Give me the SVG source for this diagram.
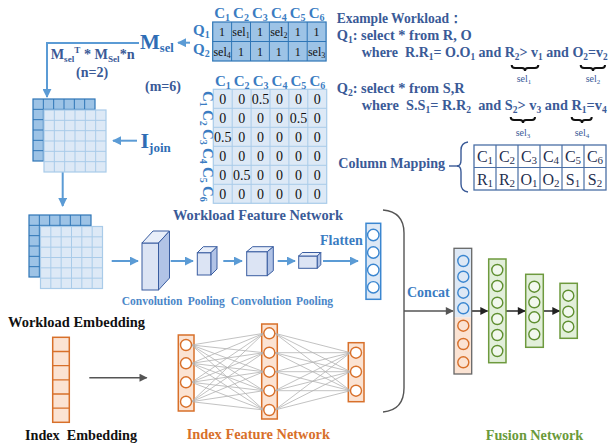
<svg xmlns="http://www.w3.org/2000/svg" width="613" height="444" viewBox="0 0 613 444" font-family="'Liberation Serif', 'Times New Roman', serif">
<defs>
<style>
text{font-family:"Liberation Serif","Times New Roman",serif;font-weight:bold}
.nb{fill:#3a5a97}
.bl{fill:#3a7cc2}
.cv{fill:#4a86c8;font-size:11.5px}
.nw{font-weight:normal}
.ar{stroke:#5b9bd5;stroke-width:2;fill:none}
.gar{stroke:#555;stroke-width:1.4;fill:none}
.kar{stroke:#333;stroke-width:1.6;fill:none}
.f1{fill:#dce4f4;stroke:#3a5da0;stroke-width:1}
.f2{fill:#e8eef9;stroke:#3a5da0;stroke-width:1}
.f3{fill:#b1c3e6;stroke:#3a5da0;stroke-width:1}
.ocirc{fill:#fff;stroke:#d8702a;stroke-width:1.4}
.orect{fill:#fbe3d3;stroke:#d8702a;stroke-width:1.5}
.bcirc{fill:#fff;stroke:#3a86d0;stroke-width:1.4}
.gcirc{fill:#f2f8ee;stroke:#5f8f30;stroke-width:1.4}
.grect{fill:#e2efda;stroke:#6e9a3e;stroke-width:1.5}
.nn{stroke:#b3b3b3;stroke-width:0.8}
.brace{stroke:#111;stroke-width:2;fill:none}
</style>
<marker id="abl" viewBox="0 0 10 10" refX="9" refY="5" markerWidth="9" markerHeight="9" orient="auto" markerUnits="userSpaceOnUse"><path d="M0,0L10,5L0,10z" fill="#5b9bd5"/></marker>
<marker id="ag" viewBox="0 0 10 10" refX="9" refY="5" markerWidth="9" markerHeight="8" orient="auto" markerUnits="userSpaceOnUse"><path d="M0,0L10,5L0,10z" fill="#555"/></marker>
<marker id="ak" viewBox="0 0 10 10" refX="9" refY="5" markerWidth="10" markerHeight="8" orient="auto" markerUnits="userSpaceOnUse"><path d="M0,0L10,5L0,10z" fill="#222"/></marker>
<g id="gridDark">
<rect x="0" y="0" width="62" height="62" fill="#9dc3e6" stroke="#2e75b6" stroke-width="1.2"/>
<path d="M10.33,0V62M20.67,0V62M31,0V62M41.33,0V62M51.67,0V62M0,10.33H62M0,20.67H62M0,31H62M0,41.33H62M0,51.67H62" stroke="#2e75b6" stroke-width="1"/>
</g>
<g id="gridLight">
<rect x="0" y="0" width="62" height="62" fill="#dde9f6" stroke="#a9cbe9" stroke-width="1.2"/>
<path d="M10.33,0V62M20.67,0V62M31,0V62M41.33,0V62M51.67,0V62M0,10.33H62M0,20.67H62M0,31H62M0,41.33H62M0,51.67H62" stroke="#a9cbe9" stroke-width="1"/>
</g>
</defs>
<rect width="613" height="444" fill="#fff"/>

<g id="connectors">
<path class="ar" d="M190,42.7H178" marker-end="url(#abl)"/>
<path class="ar" d="M139,43H47V97" marker-end="url(#abl)"/>
<path class="ar" d="M137,140.7H113" marker-end="url(#abl)"/>
<path class="ar" d="M62.7,172V206" marker-end="url(#abl)"/>
<path class="ar" d="M111.7,261H138" marker-end="url(#abl)"/>
<path class="ar" d="M170.7,261H193" marker-end="url(#abl)"/>
<path class="ar" d="M223.3,261H242" marker-end="url(#abl)"/>
<path class="ar" d="M277.7,261H295" marker-end="url(#abl)"/>
<path class="ar" d="M323,261H358" marker-end="url(#abl)"/>
<path class="gar" d="M89.3,377.7H146.7" marker-end="url(#ag)"/>
<path d="M383,210Q404,212 404,233V388Q404,410 383,412" stroke="#555" stroke-width="1.4" fill="none"/>
<path class="gar" d="M404,311H453" marker-end="url(#ag)"/>
<path class="kar" d="M472,311H487.5" marker-end="url(#ak)"/>
<path class="kar" d="M506,311H525" marker-end="url(#ak)"/>
<path class="kar" d="M543.3,311H559.5" marker-end="url(#ak)"/>
</g>

<g id="msel">
<text x="140" y="49" style="fill:#2f6db5"><tspan font-size="21">M</tspan><tspan font-size="12.5" dy="3">sel</tspan></text>
<text x="50.7" y="59.3" class="nb" font-size="14" textLength="84" lengthAdjust="spacingAndGlyphs">M<tspan font-size="9" dy="3">sel</tspan><tspan font-size="9" dy="-9">T</tspan><tspan dy="6"> * M</tspan><tspan font-size="9" dy="3">Sel</tspan><tspan dy="-3">*n</tspan></text>
<text x="76" y="77.3" class="nb" font-size="14">(n=2)</text>
<text x="145" y="91" class="nb" font-size="14">(m=6)</text>
</g>

<g id="selmatrix">
<rect x="212.7" y="22" width="113.4" height="39" fill="#9dc3e6" stroke="#2e75b6" stroke-width="1.2"/>
<path d="M231.6,22V61M250.5,22V61M269.4,22V61M288.3,22V61M307.2,22V61M212.7,41.5H326.1" stroke="#2e75b6" stroke-width="1"/>
<g class="bl" font-size="15" text-anchor="middle">
<text x="222.1" y="18">C<tspan font-size="10" dy="3">1</tspan></text>
<text x="241" y="18">C<tspan font-size="10" dy="3">2</tspan></text>
<text x="259.9" y="18">C<tspan font-size="10" dy="3">3</tspan></text>
<text x="278.8" y="18">C<tspan font-size="10" dy="3">4</tspan></text>
<text x="297.7" y="18">C<tspan font-size="10" dy="3">5</tspan></text>
<text x="316.6" y="18">C<tspan font-size="10" dy="3">6</tspan></text>
</g>
<text x="193" y="35" class="bl" font-size="15">Q<tspan font-size="10" dy="3">1</tspan></text>
<text x="193" y="54" class="bl" font-size="15">Q<tspan font-size="10" dy="3">2</tspan></text>
<g font-size="12" text-anchor="middle" fill="#111">
<text class="nw" x="222.1" y="36">1</text>
<text class="nw" x="241" y="36">sel<tspan font-size="8" dy="2">1</tspan></text>
<text class="nw" x="259.9" y="36">1</text>
<text class="nw" x="278.8" y="36">sel<tspan font-size="8" dy="2">2</tspan></text>
<text class="nw" x="297.7" y="36">1</text>
<text class="nw" x="316.6" y="36">1</text>
<text class="nw" x="222.1" y="55.5">sel<tspan font-size="8" dy="2">4</tspan></text>
<text class="nw" x="241" y="55.5">1</text>
<text class="nw" x="259.9" y="55.5">1</text>
<text class="nw" x="278.8" y="55.5">1</text>
<text class="nw" x="297.7" y="55.5">1</text>
<text class="nw" x="316.6" y="55.5">sel<tspan font-size="8" dy="2">3</tspan></text>
</g>
</g>

<g id="joinmatrix">
<rect x="213.3" y="89.3" width="113.4" height="114" fill="#dde9f6" stroke="#a9cbe9" stroke-width="1.2"/>
<path d="M232.2,89.3V203.3M251.1,89.3V203.3M270,89.3V203.3M288.9,89.3V203.3M307.8,89.3V203.3M213.3,108.3H326.7M213.3,127.3H326.7M213.3,146.3H326.7M213.3,165.3H326.7M213.3,184.3H326.7" stroke="#a9cbe9" stroke-width="1"/>
<g class="bl" font-size="15" text-anchor="middle">
<text x="222.8" y="86">C<tspan font-size="10" dy="3">1</tspan></text>
<text x="241.7" y="86">C<tspan font-size="10" dy="3">2</tspan></text>
<text x="260.6" y="86">C<tspan font-size="10" dy="3">3</tspan></text>
<text x="279.5" y="86">C<tspan font-size="10" dy="3">4</tspan></text>
<text x="298.4" y="86">C<tspan font-size="10" dy="3">5</tspan></text>
<text x="317.3" y="86">C<tspan font-size="10" dy="3">6</tspan></text>
</g>
<g class="bl" font-size="15" text-anchor="middle">
<text transform="translate(202.5,98.8) rotate(90)">C<tspan font-size="10" dy="3">1</tspan></text>
<text transform="translate(202.5,117.8) rotate(90)">C<tspan font-size="10" dy="3">2</tspan></text>
<text transform="translate(202.5,136.8) rotate(90)">C<tspan font-size="10" dy="3">3</tspan></text>
<text transform="translate(202.5,155.8) rotate(90)">C<tspan font-size="10" dy="3">4</tspan></text>
<text transform="translate(202.5,174.8) rotate(90)">C<tspan font-size="10" dy="3">5</tspan></text>
<text transform="translate(202.5,193.8) rotate(90)">C<tspan font-size="10" dy="3">6</tspan></text>
</g>
<g font-size="14" text-anchor="middle" fill="#111">
<text class="nw" x="222.8" y="103.8">0</text><text class="nw" x="241.7" y="103.8">0</text><text class="nw" x="260.6" y="103.8">0.5</text><text class="nw" x="279.5" y="103.8">0</text><text class="nw" x="298.4" y="103.8">0</text><text class="nw" x="317.3" y="103.8">0</text>
<text class="nw" x="222.8" y="122.8">0</text><text class="nw" x="241.7" y="122.8">0</text><text class="nw" x="260.6" y="122.8">0</text><text class="nw" x="279.5" y="122.8">0</text><text class="nw" x="298.4" y="122.8">0.5</text><text class="nw" x="317.3" y="122.8">0</text>
<text class="nw" x="222.8" y="141.8">0.5</text><text class="nw" x="241.7" y="141.8">0</text><text class="nw" x="260.6" y="141.8">0</text><text class="nw" x="279.5" y="141.8">0</text><text class="nw" x="298.4" y="141.8">0</text><text class="nw" x="317.3" y="141.8">0</text>
<text class="nw" x="222.8" y="160.8">0</text><text class="nw" x="241.7" y="160.8">0</text><text class="nw" x="260.6" y="160.8">0</text><text class="nw" x="279.5" y="160.8">0</text><text class="nw" x="298.4" y="160.8">0</text><text class="nw" x="317.3" y="160.8">0</text>
<text class="nw" x="222.8" y="179.8">0</text><text class="nw" x="241.7" y="179.8">0.5</text><text class="nw" x="260.6" y="179.8">0</text><text class="nw" x="279.5" y="179.8">0</text><text class="nw" x="298.4" y="179.8">0</text><text class="nw" x="317.3" y="179.8">0</text>
<text class="nw" x="222.8" y="198.8">0</text><text class="nw" x="241.7" y="198.8">0</text><text class="nw" x="260.6" y="198.8">0</text><text class="nw" x="279.5" y="198.8">0</text><text class="nw" x="298.4" y="198.8">0</text><text class="nw" x="317.3" y="198.8">0</text>
</g>
<text x="173" y="220" class="nb" font-size="14.5" textLength="170" lengthAdjust="spacingAndGlyphs">Workload Feature Network</text>
</g>

<g id="workload" class="nb" font-size="15">
<text x="336.7" y="23.3" textLength="126" lengthAdjust="spacingAndGlyphs">Example Workload：</text>
<text x="336.7" y="40" textLength="135" lengthAdjust="spacingAndGlyphs">Q<tspan font-size="10" dy="3">1</tspan><tspan dy="-3">: select * from R, O</tspan></text>
<text x="361.7" y="57.3" textLength="246" lengthAdjust="spacingAndGlyphs">where&#160; R.R<tspan font-size="10" dy="3">1</tspan><tspan dy="-3">= O.O</tspan><tspan font-size="10" dy="3">1</tspan><tspan dy="-3"> and R</tspan><tspan font-size="10" dy="3">2</tspan><tspan dy="-3">&gt; v</tspan><tspan font-size="10" dy="3">1</tspan><tspan dy="-3"> and O</tspan><tspan font-size="10" dy="3">2</tspan><tspan dy="-3">=v</tspan><tspan font-size="10" dy="3">2</tspan></text>
<text x="336.7" y="93.3" textLength="128" lengthAdjust="spacingAndGlyphs">Q<tspan font-size="10" dy="3">2</tspan><tspan dy="-3">: select * from S,R</tspan></text>
<text x="361.7" y="110" textLength="245" lengthAdjust="spacingAndGlyphs">where&#160; S.S<tspan font-size="10" dy="3">1</tspan><tspan dy="-3">= R.R</tspan><tspan font-size="10" dy="3">2</tspan><tspan dy="-3">&#160; and S</tspan><tspan font-size="10" dy="3">2</tspan><tspan dy="-3">&gt; v</tspan><tspan font-size="10" dy="3">3</tspan><tspan dy="-3"> and R</tspan><tspan font-size="10" dy="3">1</tspan><tspan dy="-3">=v</tspan><tspan font-size="10" dy="3">4</tspan></text>
<path class="brace" d="M511.7,65Q511.7,68 515,68H522Q525,68 525,71Q525,68 528,68H535Q538.3,68 538.3,65"/>
<path class="brace" d="M580.7,65Q580.7,68 584,68H590Q593,68 593,71Q593,68 596,68H602Q605,68 605,65"/>
<path class="brace" d="M510.7,117Q510.7,120 514,120H520Q523,120 523,123Q523,120 526,120H532Q535,120 535,117"/>
<path class="brace" d="M571.7,117Q571.7,120 575,120H579Q582,120 582,123Q582,120 585,120H589Q591.7,120 591.7,117"/>
<g font-size="10" text-anchor="middle">
<text class="nw" x="524" y="81.7">sel<tspan font-size="7" dy="2">1</tspan></text>
<text class="nw" x="593" y="81.7">sel<tspan font-size="7" dy="2">2</tspan></text>
<text class="nw" x="523" y="135.5">sel<tspan font-size="7" dy="2">3</tspan></text>
<text class="nw" x="582" y="135.5">sel<tspan font-size="7" dy="2">4</tspan></text>
</g>
</g>

<g id="colmap">
<text x="338.3" y="168.3" class="nb" font-size="15" textLength="106.7" lengthAdjust="spacingAndGlyphs">Column Mapping</text>
<path d="M449,166H458" stroke="#3a5a97" stroke-width="1.4"/>
<path d="M468,142Q461,143 461,150V160Q461,166 457,166Q461,166 461,172V184Q461,191 468,192" stroke="#3a5a97" stroke-width="1.4" fill="none"/>
<rect x="474" y="145" width="132" height="45" fill="#fff" stroke="#4a6fa5" stroke-width="1.3"/>
<path d="M496,145V190M518,145V190M540,145V190M562,145V190M584,145V190M474,167.5H606" stroke="#4a6fa5" stroke-width="1.2"/>
<g font-size="16" fill="#1f2f4f" text-anchor="middle">
<text class="nw" x="485" y="162">C<tspan font-size="11" dy="2">1</tspan></text>
<text class="nw" x="507" y="162">C<tspan font-size="11" dy="2">2</tspan></text>
<text class="nw" x="529" y="162">C<tspan font-size="11" dy="2">3</tspan></text>
<text class="nw" x="551" y="162">C<tspan font-size="11" dy="2">4</tspan></text>
<text class="nw" x="573" y="162">C<tspan font-size="11" dy="2">5</tspan></text>
<text class="nw" x="595" y="162">C<tspan font-size="11" dy="2">6</tspan></text>
<text class="nw" x="485" y="184.5">R<tspan font-size="11" dy="2">1</tspan></text>
<text class="nw" x="507" y="184.5">R<tspan font-size="11" dy="2">2</tspan></text>
<text class="nw" x="529" y="184.5">O<tspan font-size="11" dy="2">1</tspan></text>
<text class="nw" x="551" y="184.5">O<tspan font-size="11" dy="2">2</tspan></text>
<text class="nw" x="573" y="184.5">S<tspan font-size="11" dy="2">1</tspan></text>
<text class="nw" x="595" y="184.5">S<tspan font-size="11" dy="2">2</tspan></text>
</g>
</g>

<g id="stack1">
<use href="#gridDark" x="33" y="99"/>
<use href="#gridLight" x="44" y="110"/>
</g>
<g id="ijoin">
<text x="140.5" y="148" font-size="22" style="fill:#2f6db5">I<tspan font-size="13" dy="4">join</tspan></text>
</g>
<g id="stack2">
<use href="#gridDark" x="29" y="215"/>
<use href="#gridLight" x="40.5" y="226.5"/>
</g>

<g id="conv1">
<rect class="f1" x="142" y="243" width="16.5" height="47"/>
<path class="f2" d="M142,243L153,231H169.5L158.5,243Z"/>
<path class="f3" d="M158.5,243L169.5,231V278L158.5,290Z"/>
</g>
<g id="pool1">
<rect class="f1" x="197.3" y="252.7" width="13.7" height="22.3"/>
<path class="f2" d="M197.3,252.7L203.3,246.7H217L211,252.7Z"/>
<path class="f3" d="M211,252.7L217,246.7V269L211,275Z"/>
</g>
<g id="conv2">
<rect class="f1" x="246.7" y="251.7" width="20.6" height="24"/>
<path class="f2" d="M246.7,251.7L252.7,246.7H273.3L267.3,251.7Z"/>
<path class="f3" d="M267.3,251.7L273.3,246.7V270.7L267.3,275.7Z"/>
</g>
<g id="pool2">
<rect class="f1" x="298.7" y="256" width="18.6" height="12.3"/>
<path class="f2" d="M298.7,256L302.2,252.5H320.8L317.3,256Z"/>
<path class="f3" d="M317.3,256L320.8,252.5V264.8L317.3,268.3Z"/>
</g>
<g id="cnnlabels">
<text x="121.7" y="305" class="cv">Convolution</text>
<text x="187.7" y="305" class="cv">Pooling</text>
<text x="230.7" y="305" class="cv">Convolution</text>
<text x="296" y="305" class="cv">Pooling</text>
<text x="320" y="245" class="bl" font-size="14">Flatten</text>
</g>
<g id="flatten">
<rect x="366" y="223.3" width="14.7" height="76" fill="#dde8f5" stroke="#3a86d0" stroke-width="1.5"/>
<circle class="bcirc" cx="373.3" cy="235" r="5.7"/>
<circle class="bcirc" cx="373.3" cy="252.5" r="5.7"/>
<circle class="bcirc" cx="373.3" cy="270" r="5.7"/>
<circle class="bcirc" cx="373.3" cy="287.3" r="5.7"/>
</g>
<text x="8" y="327" font-size="14.5" fill="#111" textLength="137" lengthAdjust="spacingAndGlyphs">Workload Embedding</text>

<g id="indexemb">
<rect class="orect" x="52.7" y="337.3" width="16.6" height="85"/>
<path d="M52.7,351.5H69.3M52.7,365.6H69.3M52.7,379.8H69.3M52.7,394H69.3M52.7,408.1H69.3" stroke="#d8702a" stroke-width="1.3"/>
</g>
<text x="25" y="440" font-size="14.5" fill="#111" textLength="112" lengthAdjust="spacingAndGlyphs">Index&#160; Embedding</text>

<g id="indexnet">
<rect class="orect" x="178.3" y="335" width="15.7" height="76"/>
<rect class="orect" x="261.7" y="324" width="15.6" height="95"/>
<rect class="orect" x="348.3" y="342.7" width="15.7" height="59"/>
<g class="nn">
<path d="M191.5,345L263.8,333.3M191.5,345L263.8,352.7M191.5,345L263.8,371.7M191.5,345L263.8,390.7M191.5,345L263.8,410M191.5,363.3L263.8,333.3M191.5,363.3L263.8,352.7M191.5,363.3L263.8,371.7M191.5,363.3L263.8,390.7M191.5,363.3L263.8,410M191.5,382.3L263.8,333.3M191.5,382.3L263.8,352.7M191.5,382.3L263.8,371.7M191.5,382.3L263.8,390.7M191.5,382.3L263.8,410M191.5,401.7L263.8,333.3M191.5,401.7L263.8,352.7M191.5,401.7L263.8,371.7M191.5,401.7L263.8,390.7M191.5,401.7L263.8,410"/>
<path d="M274.8,333.3L350.5,352.7M274.8,333.3L350.5,371.7M274.8,333.3L350.5,390.7M274.8,352.7L350.5,352.7M274.8,352.7L350.5,371.7M274.8,352.7L350.5,390.7M274.8,371.7L350.5,352.7M274.8,371.7L350.5,371.7M274.8,371.7L350.5,390.7M274.8,390.7L350.5,352.7M274.8,390.7L350.5,371.7M274.8,390.7L350.5,390.7M274.8,410L350.5,352.7M274.8,410L350.5,371.7M274.8,410L350.5,390.7"/>
</g>
<circle class="ocirc" cx="186" cy="345" r="5.5"/>
<circle class="ocirc" cx="186" cy="363.3" r="5.5"/>
<circle class="ocirc" cx="186" cy="382.3" r="5.5"/>
<circle class="ocirc" cx="186" cy="401.7" r="5.5"/>
<circle class="ocirc" cx="269.3" cy="333.3" r="5.5"/>
<circle class="ocirc" cx="269.3" cy="352.7" r="5.5"/>
<circle class="ocirc" cx="269.3" cy="371.7" r="5.5"/>
<circle class="ocirc" cx="269.3" cy="390.7" r="5.5"/>
<circle class="ocirc" cx="269.3" cy="410" r="5.5"/>
<circle class="ocirc" cx="356" cy="352.7" r="5.5"/>
<circle class="ocirc" cx="356" cy="371.7" r="5.5"/>
<circle class="ocirc" cx="356" cy="390.7" r="5.5"/>
</g>
<text x="186.7" y="439.3" font-size="14.5" fill="#d8702a" textLength="143.3" lengthAdjust="spacingAndGlyphs">Index Feature Network</text>

<text x="407" y="296.7" class="bl" font-size="14">Concat</text>
<g id="concat">
<rect x="454" y="248.3" width="17.7" height="69" fill="#dde8f5"/>
<rect x="454" y="317.3" width="17.7" height="56.7" fill="#fbe3d3"/>
<rect x="454" y="248.3" width="17.7" height="125.7" fill="none" stroke="#666" stroke-width="1.3"/>
<circle class="bcirc" cx="463.3" cy="261" r="5.5" style="fill:none"/>
<circle class="bcirc" cx="463.3" cy="276.7" r="5.5" style="fill:none"/>
<circle class="bcirc" cx="463.3" cy="292.7" r="5.5" style="fill:none"/>
<circle class="bcirc" cx="463.3" cy="308.3" r="5.5" style="fill:none"/>
<circle class="ocirc" cx="463.3" cy="325.7" r="5.5" style="fill:none"/>
<circle class="ocirc" cx="463.3" cy="344" r="5.5" style="fill:none"/>
<circle class="ocirc" cx="463.3" cy="362.3" r="5.5" style="fill:none"/>
</g>
<g id="fusion1">
<rect class="grect" x="488.7" y="259" width="17.3" height="103.7"/>
<circle class="gcirc" cx="497.3" cy="270" r="5.5"/>
<circle class="gcirc" cx="497.3" cy="286" r="5.5"/>
<circle class="gcirc" cx="497.3" cy="302.7" r="5.5"/>
<circle class="gcirc" cx="497.3" cy="319" r="5.5"/>
<circle class="gcirc" cx="497.3" cy="335" r="5.5"/>
<circle class="gcirc" cx="497.3" cy="351" r="5.5"/>
</g>
<g id="fusion2">
<rect class="grect" x="525.7" y="274.3" width="17.6" height="73"/>
<circle class="gcirc" cx="534.3" cy="286.7" r="5.5"/>
<circle class="gcirc" cx="534.3" cy="302.3" r="5.5"/>
<circle class="gcirc" cx="534.3" cy="317.3" r="5.5"/>
<circle class="gcirc" cx="534.3" cy="334.3" r="5.5"/>
</g>
<g id="fusion3">
<rect class="grect" x="560" y="283.3" width="17.3" height="55"/>
<circle class="gcirc" cx="568.3" cy="295.7" r="5.5"/>
<circle class="gcirc" cx="568.3" cy="311.7" r="5.5"/>
<circle class="gcirc" cx="568.3" cy="326.7" r="5.5"/>
</g>
<text x="485.7" y="440" font-size="14.5" fill="#6a9a3a" textLength="97.6" lengthAdjust="spacingAndGlyphs">Fusion Network</text>
</svg>
